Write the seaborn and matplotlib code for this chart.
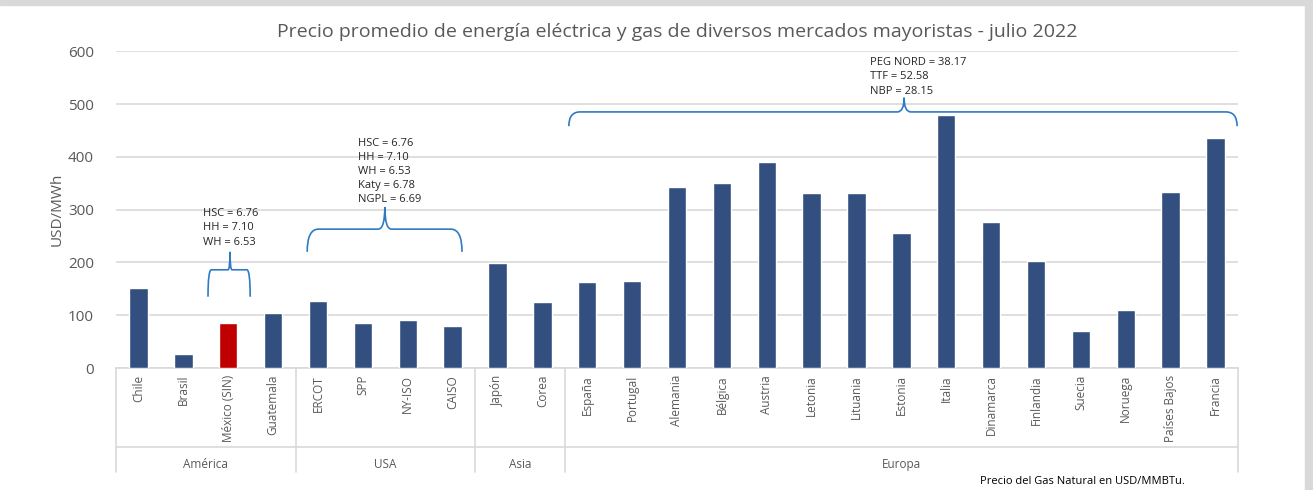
import matplotlib
matplotlib.use("Agg")
import matplotlib.pyplot as plt
import matplotlib.transforms as mtransforms
from matplotlib.path import Path
from matplotlib.patches import PathPatch, Rectangle
import pandas as pd
import seaborn as sns

# datos
mercados = ['Chile', 'Brasil', 'México (SIN)', 'Guatemala',
            'ERCOT', 'SPP', 'NY-ISO', 'CAISO',
            'Japón', 'Corea',
            'España', 'Portugal', 'Alemania', 'Bélgica', 'Austria', 'Letonia',
            'Lituania', 'Estonia', 'Italia', 'Dinamarca', 'Finlandia', 'Suecia',
            'Noruega', 'Países Bajos', 'Francia']
precios = [152, 26, 86, 105,
           126, 85, 90, 79,
           198, 125,
           163, 165, 343, 350, 390, 332,
           332, 255, 480, 277, 202, 70,
           110, 334, 435]
regiones = ['América', 'USA', 'Asia', 'Europa']
n_por_region = [4, 4, 2, 15]

gas_america = "HSC = 6.76\nHH = 7.10\nWH = 6.53"
gas_usa = "HSC = 6.76\nHH = 7.10\nWH = 6.53\nKaty = 6.78\nNGPL = 6.69"
gas_europa = "PEG NORD = 38.17\nTTF = 52.58\nNBP = 28.15"

azul = "#334F7F"
rojo = "#C00000"
llave = "#2E7BC4"
gris = "#D9D9D9"
texto = "#595959"

sns.set_theme(style="white")
plt.rcParams['font.family'] = ['Open Sans', 'DejaVu Sans']

df = pd.DataFrame({"mercado": mercados, "precio": precios})
colores = {m: (rojo if m == 'México (SIN)' else azul) for m in mercados}

fig = plt.figure(figsize=(13.13, 4.90), dpi=100)
ax = fig.add_axes([116 / 1313, 122 / 490, (1238 - 116) / 1313, 316.8 / 490])

sns.barplot(data=df, x="mercado", y="precio", hue="mercado", palette=colores,
            width=0.41, legend=False, ax=ax, zorder=3, saturation=1)

ax.set_ylim(0, 600)
ax.set_xlim(-0.5, len(mercados) - 0.5)
ax.set_yticks(range(0, 601, 100))
ax.yaxis.grid(True, color=gris, linewidth=1.2, zorder=0)
ax.tick_params(axis='y', length=0, labelsize=11, labelcolor=texto, pad=16)
ax.tick_params(axis='x', length=0, labelsize=8.5, labelcolor=texto, pad=5)
ax.set_xticks(range(len(mercados)))
ax.set_xticklabels(mercados, rotation=90, va='top')
ax.set_xlabel("")
ax.set_ylabel("USD/MWh", fontsize=11, color=texto, labelpad=2)
for s in ['top', 'right', 'left']:
    ax.spines[s].set_visible(False)
ax.spines['bottom'].set_color(gris)
ax.spines['bottom'].set_linewidth(1.2)

ax.set_title("Precio promedio de energía eléctrica y gas de diversos mercados mayoristas - julio 2022",
             fontsize=14, color=texto, pad=10)

# eje de categorías de dos niveles
trans = mtransforms.blended_transform_factory(ax.transData, ax.transAxes)
bordes = [-0.5]
for n in n_por_region:
    bordes.append(bordes[-1] + n)
for b in bordes:
    ax.plot([b, b], [0, -0.327], transform=trans, color=gris, lw=1.2, clip_on=False)
ax.plot([-0.5, bordes[-1]], [-0.248, -0.248], transform=trans, color=gris, lw=1.2, clip_on=False)
for i, r in enumerate(regiones):
    ax.text((bordes[i] + bordes[i + 1]) / 2, -0.305, r, transform=trans,
            ha='center', va='center', fontsize=8.5, color=texto)


def dibujar_llave(x0, x1, xm, yb, yh, yt):
    dx = min(0.25, (x1 - x0) * 0.08)
    verts = [(x0, yb), (x0, yh), (x0 + dx, yh),
             (xm - dx * 0.6, yh), (xm, yh), (xm, yt),
             (xm, yh), (xm + dx * 0.6, yh),
             (x1 - dx, yh), (x1, yh), (x1, yb)]
    codes = [Path.MOVETO, Path.CURVE3, Path.CURVE3,
             Path.LINETO, Path.CURVE3, Path.CURVE3,
             Path.CURVE3, Path.CURVE3,
             Path.LINETO, Path.CURVE3, Path.CURVE3]
    ax.add_patch(PathPatch(Path(verts, codes), fill=False, edgecolor=llave,
                           lw=1.2, clip_on=False, zorder=4))


dibujar_llave(1.55, 2.49, 2.04, 135, 186, 220)
dibujar_llave(3.76, 7.21, 5.49, 220, 263, 305)
dibujar_llave(9.59, 24.48, 17.06, 458, 485, 512)

ax.text(1.44, 228, gas_america, fontsize=8, va='bottom', ha='left', linespacing=1.4)
ax.text(4.89, 308, gas_usa, fontsize=8, va='bottom', ha='left', linespacing=1.4)
ax.text(16.3, 514, gas_europa, fontsize=8, va='bottom', ha='left', linespacing=1.4)

fig.text(980 / 1313, 1 - 481 / 490, "Precio del Gas Natural en USD/MMBTu.",
         fontsize=8, color='black', va='center', ha='left')

# marco gris del gráfico
fig.patches.append(Rectangle((0, 1 - 5 / 490), 1, 5 / 490, transform=fig.transFigure,
                             color=gris, zorder=0))
fig.patches.append(Rectangle((1 - 8 / 1313, 0), 8 / 1313, 1, transform=fig.transFigure,
                             color=gris, zorder=0))

fig.savefig("out.png", dpi=100)
